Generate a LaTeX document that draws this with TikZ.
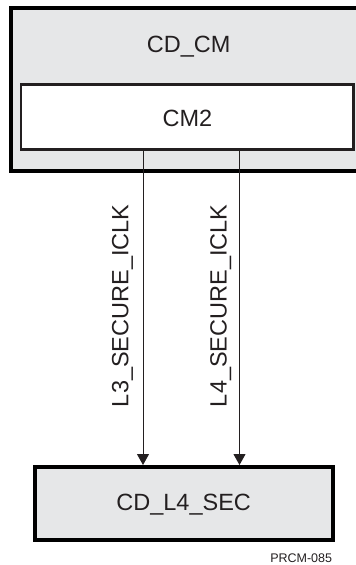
\documentclass[tikz,border=0pt]{standalone}
\usepackage{fontspec}
\setmainfont{Liberation Sans}
\usetikzlibrary{arrows.meta}
\definecolor{boxgray}{HTML}{E6E7E8}
\definecolor{ink}{HTML}{231F20}
\begin{document}
\begin{tikzpicture}[x=1pt,y=1pt,
  domainbox/.style={draw=black,fill=boxgray,line width=4pt,inner sep=0pt,minimum width=#1},
  modbox/.style={draw=ink,fill=white,line width=2.5pt,inner sep=0pt},
  lbl/.style={text=ink,inner sep=0pt,font=\fontsize{23.5}{27}\selectfont},
  sig/.style={draw=ink,line width=1pt,-{Triangle[width=12pt,length=11pt]}},
  tag/.style={text=ink,inner sep=0pt,font=\fontsize{12.5}{14}\selectfont}]
\useasboundingbox (0,0) rectangle (356,-565);
\clip (0,0) rectangle (356,-565);
% outer domain CD_CM (right edge runs off the picture)
\node[domainbox=360pt,minimum height=162.5pt] (cdcm) at (191,-89.25) {};
\node[lbl,anchor=base] (cdcmlbl) at (188.7,-52.7) {CD\_CM};
% CM2 module
\node[modbox,minimum width=332.3pt,minimum height=65pt] (cm2) at (187.2,-117) {};
\node[lbl,anchor=base] (cm2lbl) at (187.5,-126.7) {CM2};
% CD_L4_SEC domain
\node[domainbox=298pt,minimum height=73pt] (sec) at (184,-503.5) {};
\node[lbl,anchor=base] (seclbl) at (183.7,-510.7) {CD\_L4\_SEC};
% signals
\coordinate (x3) at (143,0);
\coordinate (x4) at (239.5,0);
\draw[sig] (x3 |- cm2.south) -- (x3 |- sec.north);
\draw[sig] (x4 |- cm2.south) -- (x4 |- sec.north);
\node[lbl,rotate=90,anchor=base] (l3lbl) at (128.3,-305.8) {L3\_SECURE\_ICLK};
\node[lbl,rotate=90,anchor=base] (l4lbl) at (226.7,-305.8) {L4\_SECURE\_ICLK};
% figure tag
\node[tag,anchor=base east] (tagl) at (332.3,-562.7) {PRCM-085};
\end{tikzpicture}
\end{document}
